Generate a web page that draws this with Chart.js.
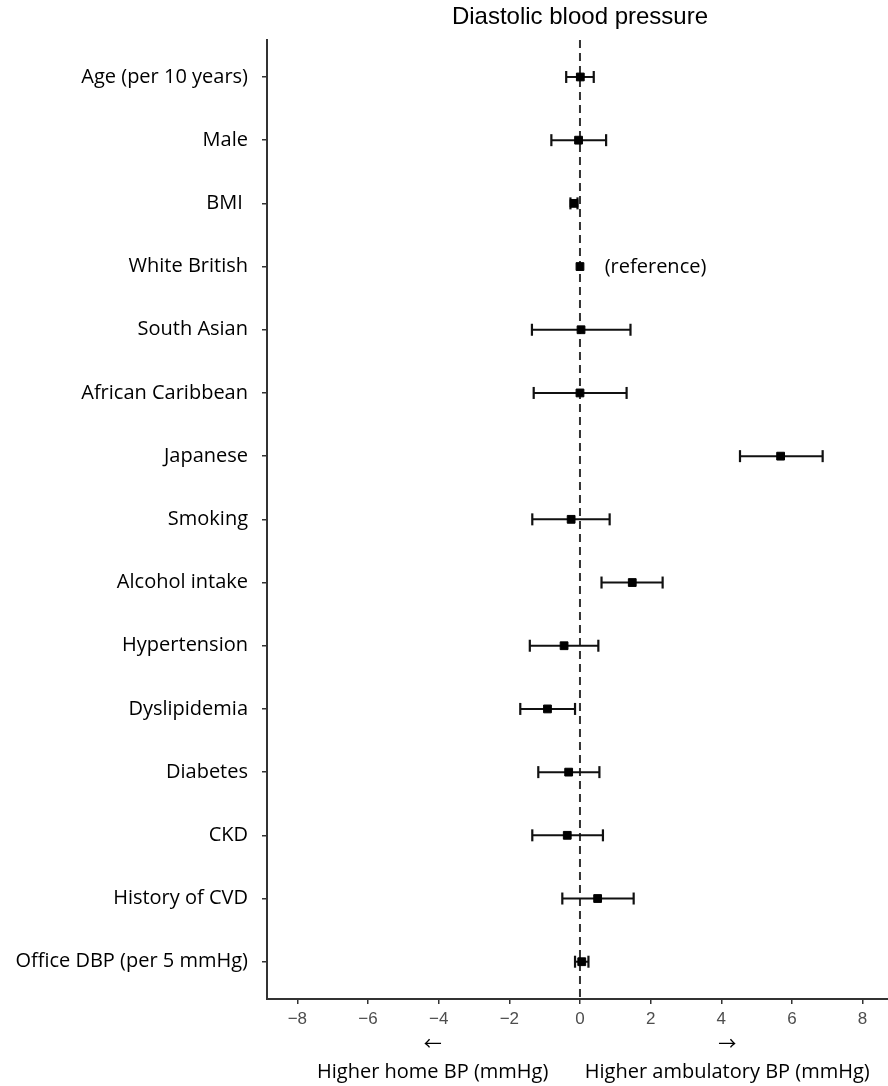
<!DOCTYPE html>
<html>
<head>
<meta charset="utf-8">
<script src="https://cdn.jsdelivr.net/npm/chart.js@4/dist/chart.umd.min.js"></script>
<style>
  html, body { margin: 0; padding: 0; background: #ffffff; }
  canvas { display: block; }
</style>
</head>
<body>
<canvas id="forest" width="888" height="1086"></canvas>
<script>
// Covariates, top to bottom
const covariates = [
  'Age (per 10 years)', 'Male', 'BMI ', 'White British', 'South Asian',
  'African Caribbean', 'Japanese', 'Smoking', 'Alcohol intake', 'Hypertension',
  'Dyslipidemia', 'Diabetes', 'CKD', 'History of CVD', 'Office DBP (per 5 mmHg)'
];
// Difference (ambulatory minus home DBP), mmHg, with 95% CI
const estimate = [0.01, -0.04, -0.17, 0.00, 0.03, 0.00, 5.68, -0.25, 1.48, -0.45, -0.92, -0.32, -0.36, 0.50, 0.05];
const lower    = [-0.39, -0.81, -0.27, null, -1.36, -1.31, 4.53, -1.35, 0.61, -1.42, -1.69, -1.18, -1.35, -0.50, -0.14];
const upper    = [0.39, 0.74, -0.07, null, 1.43, 1.32, 6.87, 0.84, 2.34, 0.52, -0.14, 0.55, 0.65, 1.52, 0.24];
// Row of the reference category
const referenceRow = 'White British';
// x axis tick values
const xTicks = [-8, -6, -4, -2, 0, 2, 4, 6, 8];

const X_MIN = -8.86, X_MAX = 8.72;
const Y_MIN = 0.415, Y_MAX = 15.59;
const INK = '#111111';
const LABEL_FONT = "'Open Sans', 'DejaVu Sans', sans-serif";

const rows = covariates.map((_, i) => i + 1);

const ciSets = [];
covariates.forEach((name, i) => {
  if (lower[i] == null || upper[i] == null) return;
  ciSets.push({
    data: [{ x: lower[i], y: rows[i] }, { x: upper[i], y: rows[i] }],
    showLine: true,
    borderColor: INK,
    borderWidth: 2,
    pointStyle: 'line',
    pointRotation: 90,
    pointRadius: 6,
    pointBorderWidth: 2.2,
    pointBorderColor: INK,
    pointBackgroundColor: INK,
    clip: false
  });
});

const datasets = [
  {
    data: estimate.map((v, i) => ({ x: v, y: rows[i] })),
    showLine: false,
    pointStyle: 'rect',
    pointRadius: 5.5,
    pointBorderWidth: 1,
    pointBackgroundColor: '#000000',
    pointBorderColor: '#000000'
  },
  ...ciSets,
  {
    // vertical line of no difference
    data: [{ x: 0, y: Y_MIN }, { x: 0, y: Y_MAX }],
    showLine: true,
    borderColor: '#333333',
    borderWidth: 2,
    borderDash: [8, 5],
    pointRadius: 0
  }
];

const textLayer = {
  id: 'textLayer',
  afterDraw(chart) {
    const { ctx, scales: { x, y } } = chart;
    ctx.save();
    ctx.fillStyle = '#000000';

    // Title over the plot panel
    ctx.font = "24px 'Liberation Sans', Arial, sans-serif";
    ctx.textAlign = 'center';
    ctx.textBaseline = 'middle';
    ctx.fillText('Diastolic blood pressure', x.getPixelForValue(0), 17);

    // Reference-category note
    const r = covariates.indexOf(referenceRow);
    ctx.font = '20px ' + LABEL_FONT;
    ctx.textAlign = 'left';
    ctx.fillText('(reference)', x.getPixelForValue(0.7), y.getPixelForValue(rows[r]) + 1);

    // Direction arrows and captions under the axis
    ctx.textAlign = 'center';
    const leftX = x.getPixelForValue(-4.17);
    const rightX = x.getPixelForValue(4.17);
    ctx.font = "18px 'Noto Sans CJK SC', 'DejaVu Sans', sans-serif";
    ctx.fillText('\u2190', leftX, 1043);
    ctx.fillText('\u2192', rightX, 1043);
    ctx.font = '20px ' + LABEL_FONT;
    ctx.fillText('Higher home BP (mmHg)', leftX, 1072);
    ctx.fillText('Higher ambulatory BP (mmHg)', rightX, 1072);
    ctx.restore();
  }
};

new Chart(document.getElementById('forest'), {
  type: 'scatter',
  data: { datasets },
  plugins: [textLayer],
  options: {
    responsive: false,
    animation: false,
    devicePixelRatio: 1,
    layout: { autoPadding: false, padding: { top: 40, left: 0, right: 0, bottom: 0 } },
    plugins: {
      legend: { display: false },
      tooltip: { enabled: false },
      title: { display: false }
    },
    scales: {
      x: {
        type: 'linear',
        min: X_MIN,
        max: X_MAX,
        afterBuildTicks(scale) { scale.ticks = xTicks.map(v => ({ value: v })); },
        afterFit(scale) {
          scale.height = 87;
          scale.paddingLeft = 0;
          scale.paddingRight = 0;
        },
        border: { display: true, color: '#333333', width: 2 },
        grid: { drawOnChartArea: false, drawTicks: true, tickLength: 5, color: '#333333', lineWidth: 1.5 },
        ticks: {
          padding: 5,
          color: '#4d4d4d',
          font: { family: "'Liberation Sans', Arial, sans-serif", size: 17 },
          callback: v => (v < 0 ? '\u2212' + Math.abs(v) : String(v))
        }
      },
      y: {
        type: 'linear',
        reverse: true,
        min: Y_MIN,
        max: Y_MAX,
        afterBuildTicks(scale) { scale.ticks = rows.map(v => ({ value: v })); },
        afterFit(scale) {
          scale.width = 267;
          scale.paddingTop = 0;
          scale.paddingBottom = 0;
        },
        border: { display: true, color: '#333333', width: 2 },
        grid: { drawOnChartArea: false, drawTicks: true, tickLength: 5, color: '#333333', lineWidth: 1.5 },
        ticks: {
          autoSkip: false,
          padding: 14,
          color: '#000000',
          font: { family: LABEL_FONT, size: 20 },
          callback: v => covariates[Math.round(v) - 1]
        }
      }
    }
  }
});
</script>
</body>
</html>
